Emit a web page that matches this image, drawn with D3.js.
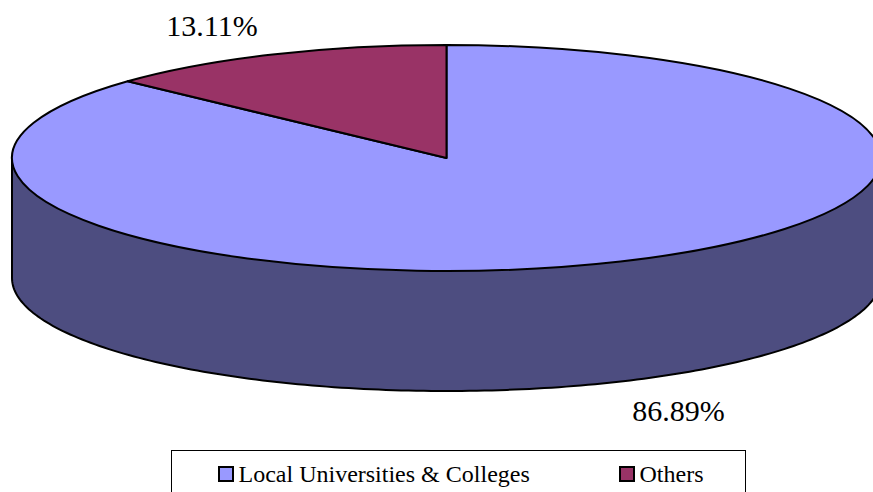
<!DOCTYPE html>
<html>
<head>
<meta charset="utf-8">
<script src="https://cdnjs.cloudflare.com/ajax/libs/d3/7.8.5/d3.min.js"></script>
<style>
html,body{margin:0;padding:0;background:#fff;overflow:hidden}
svg{display:block}
text{font-family:"Liberation Serif",serif;fill:#000}
</style>
</head>
<body>
<svg id="chart" width="873" height="492"></svg>
<script>
const categories = ["Local Universities & Colleges", "Others"];
const values = [86.89, 13.11];
const valueLabels = ["86.89%", "13.11%"];
const topColors = ["#9999ff", "#993366"];
const sideColors = ["#4d4d80", "#4d1a33"];

const svg = d3.select("#chart");
const cx = 446.5, cy = 158, rx = 434.5, ry = 113, depth = 120;

const pie = d3.pie().sort(null).value(d => d)(values);

// project pie angles on to the tilted disc
const px = a => cx + rx * Math.sin(a);
const py = a => cy - ry * Math.cos(a);

// visible wall: front half of the rim, clipped to the first slice, which covers it
const wallAngles = d3.range(90, 270.01, 1).map(d => d * Math.PI / 180);
svg.append("path")
  .attr("d", d3.area().x(px).y0(py).y1(a => py(a) + depth)(wallAngles))
  .attr("fill", sideColors[0]);
svg.append("path")
  .attr("d", d3.line().x(px).y(a => py(a) + depth)(wallAngles))
  .attr("fill", "none").attr("stroke", "#000").attr("stroke-width", 2);
const leftA = 1.5 * Math.PI;
svg.append("line")
  .attr("x1", px(leftA)).attr("y1", py(leftA))
  .attr("x2", px(leftA)).attr("y2", py(leftA) + depth)
  .attr("stroke", "#000").attr("stroke-width", 2);

// top face
const arc = d3.arc().innerRadius(0).outerRadius(rx);
svg.append("g")
  .attr("transform", `translate(${cx},${cy}) scale(1,${ry / rx})`)
  .selectAll("path").data(pie).join("path")
  .attr("d", arc)
  .attr("fill", (d, i) => topColors[i])
  .attr("stroke", "#000").attr("stroke-width", 2)
  .attr("stroke-linejoin", "round")
  .attr("vector-effect", "non-scaling-stroke");

// value labels
const labelPos = [[678.5, 421], [212, 36]];
svg.selectAll("text.val").data(valueLabels).join("text")
  .attr("class", "val")
  .attr("x", (d, i) => labelPos[i][0])
  .attr("y", (d, i) => labelPos[i][1])
  .attr("text-anchor", "middle")
  .attr("font-size", 30)
  .text(d => d);

// legend
svg.append("rect")
  .attr("x", 171.5).attr("y", 450.5).attr("width", 574).attr("height", 60)
  .attr("fill", "#fff").attr("stroke", "#000").attr("stroke-width", 1);
const legendX = [218, 619];
const leg = svg.selectAll("g.leg").data(categories).join("g")
  .attr("class", "leg")
  .attr("transform", (d, i) => `translate(${legendX[i]},0)`);
leg.append("rect")
  .attr("x", 1).attr("y", 467).attr("width", 14).attr("height", 14)
  .attr("fill", (d, i) => topColors[i])
  .attr("stroke", "#000").attr("stroke-width", 2);
leg.append("text")
  .attr("x", 20.5).attr("y", 482)
  .attr("font-size", 24)
  .text(d => d);
</script>
</body>
</html>
